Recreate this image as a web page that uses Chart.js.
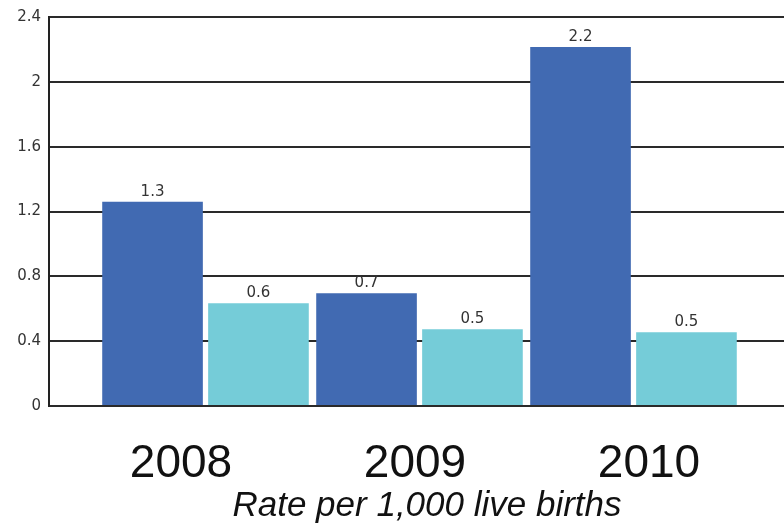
<!DOCTYPE html>
<html>
<head>
<meta charset="utf-8">
<script src="https://cdn.jsdelivr.net/npm/chart.js@4"></script>
<style>
  html, body { margin: 0; padding: 0; background: #fff; }
  #wrap { width: 784px; height: 524px; position: relative; }
</style>
</head>
<body>
<div id="wrap"><canvas id="rateChart"></canvas></div>
<script>
// Chart data
const years = [2008, 2009, 2010];
const seriesDark = [1.26, 0.695, 2.215];
const seriesLight = [0.634, 0.474, 0.455];
const yTicks = [0, 0.4, 0.8, 1.2, 1.6, 2, 2.4];
const axisTitle = 'Rate per 1,000 live births';

// Value labels above each bar
const barValueLabels = {
  id: 'barValueLabels',
  afterDatasetsDraw(chart) {
    const ctx = chart.ctx;
    ctx.save();
    ctx.font = '15px "DejaVu Sans", sans-serif';
    ctx.fillStyle = '#333';
    ctx.textAlign = 'center';
    ctx.textBaseline = 'middle';
    chart.data.datasets.forEach((ds, di) => {
      chart.getDatasetMeta(di).data.forEach((bar, i) => {
        ctx.fillText(ds.data[i].y.toFixed(1), bar.x, bar.y - 10);
      });
    });
    ctx.restore();
  }
};

function toPoints(values) {
  return years.map((x, i) => ({ x: x, y: values[i] }));
}

function yearTicks(axis) {
  axis.ticks = years.map(v => ({ value: v }));
}

const ctx = document.getElementById('rateChart').getContext('2d');

new Chart(ctx, {
  type: 'bar',
  data: {
    datasets: [
      {
        label: 'Series 1',
        data: toPoints(seriesDark),
        backgroundColor: '#416ab2'
      },
      {
        label: 'Series 2',
        data: toPoints(seriesLight),
        backgroundColor: '#75ccd8'
      }
    ]
  },
  options: {
    responsive: true,
    maintainAspectRatio: false,
    animation: false,
    categoryPercentage: 0.99,
    barPercentage: 0.95,
    layout: {
      padding: { left: 0, right: -70, top: 16, bottom: 0 }
    },
    plugins: {
      legend: { display: false },
      tooltip: { enabled: false },
      title: {
        display: true,
        position: 'bottom',
        text: axisTitle,
        color: '#111',
        font: { family: '"Liberation Sans", Arial, sans-serif', size: 35, style: 'italic', weight: 'normal', lineHeight: 1.0 },
        padding: { top: 0, bottom: 0 }
      }
    },
    scales: {
      x: {
        type: 'linear',
        display: false,
        offset: false,
        min: 2007.2687,
        max: 2010.7033,
        afterBuildTicks: yearTicks
      },
      x2: {
        type: 'linear',
        position: 'bottom',
        offset: false,
        min: 2007.4359,
        max: 2010.5769,
        afterBuildTicks: yearTicks,
        afterFit: axis => { axis.height = 83; },
        grid: { display: false, drawTicks: false },
        border: { display: false },
        ticks: {
          autoSkip: false,
          maxRotation: 0,
          padding: 31,
          color: '#111',
          font: { family: '"Liberation Sans", Arial, sans-serif', size: 46 },
          callback: v => String(v)
        }
      },
      y: {
        min: 0,
        max: 2.4,
        afterBuildTicks: axis => { axis.ticks = yTicks.map(v => ({ value: v })); },
        afterFit: axis => { axis.width = 49; },
        grid: { color: '#2a2a2a', lineWidth: 2, drawTicks: false },
        border: { display: true, color: '#222', width: 2 },
        ticks: {
          padding: 8,
          color: '#333',
          font: { family: '"DejaVu Sans", sans-serif', size: 15 },
          callback: v => String(+v.toFixed(1))
        }
      }
    }
  },
  plugins: [barValueLabels]
});
</script>
</body>
</html>
